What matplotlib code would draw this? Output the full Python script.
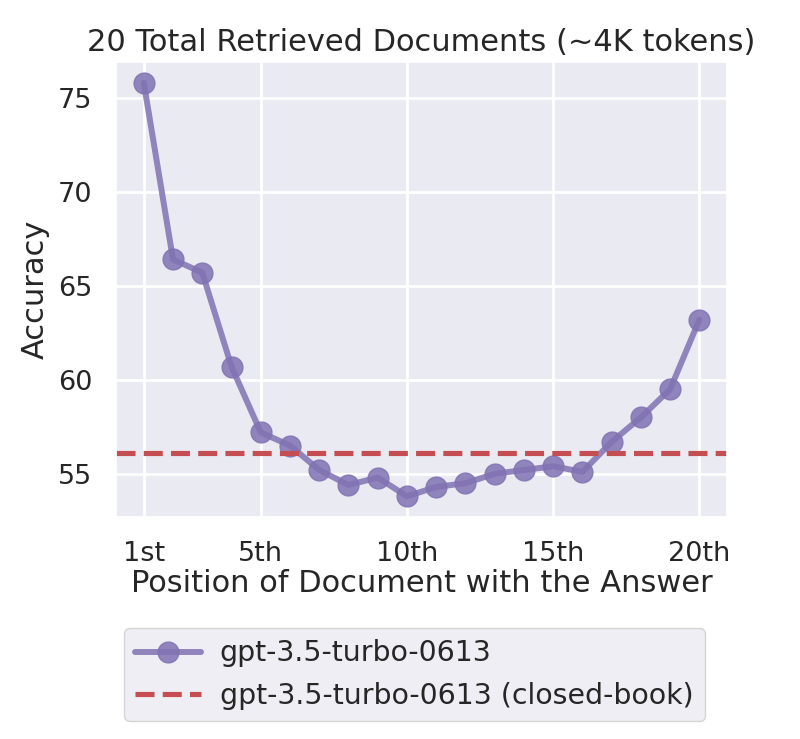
import matplotlib
matplotlib.use("Agg")
import matplotlib.pyplot as plt
import seaborn as sns
import numpy as np

# accuracy by position of the gold document (20 docs, ~4K tokens)
positions = list(range(1, 21))
accuracy = [75.8, 66.4, 65.7, 60.7, 57.2, 56.5, 55.2, 54.4, 54.8, 53.8,
            54.3, 54.5, 55.0, 55.2, 55.4, 55.1, 56.7, 58.0, 59.5, 63.2]
closed_book = 56.1
xtick_pos = [1, 5, 10, 15, 20]
xtick_labels = ["1st", "5th", "10th", "15th", "20th"]

sns.set_theme(style="darkgrid")
plt.rcParams['font.family'] = ['DejaVu Sans']

fig = plt.figure(figsize=(8, 7.39), dpi=100)
ax = fig.add_axes([0.145, 0.3004, 0.764, 0.6156])

ax.plot(positions, accuracy, '-o', color="#8172b3", alpha=0.85,
        linewidth=4.3, markersize=15, label="gpt-3.5-turbo-0613")
ax.axhline(closed_book, color="#c44e52", linestyle="--", linewidth=3.7,
           label="gpt-3.5-turbo-0613 (closed-book)")

ax.set_xticks(xtick_pos)
ax.set_xticklabels(xtick_labels)
ax.set_yticks([55, 60, 65, 70, 75])
ax.tick_params(labelsize=19.5, pad=11)
ax.grid(linewidth=2)

ax.set_title("20 Total Retrieved Documents (~4K tokens)", fontsize=22, pad=8)
ax.set_xlabel("Position of Document with the Answer", fontsize=22, labelpad=2)
ax.set_ylabel("Accuracy", fontsize=22, labelpad=6)

fig.legend(loc="upper left", bbox_to_anchor=(0.155, 0.150),
           bbox_transform=fig.transFigure, borderaxespad=0, fontsize=20.4,
           handlelength=2.3, handletextpad=0.68)

fig.savefig("out.png")
